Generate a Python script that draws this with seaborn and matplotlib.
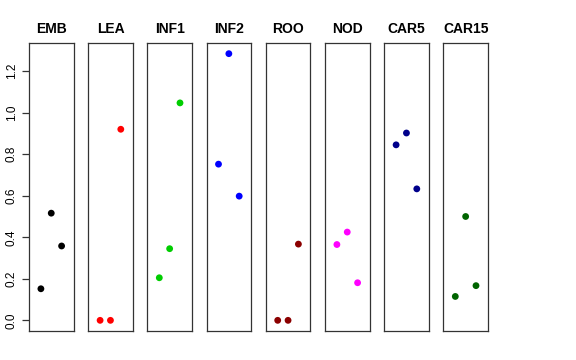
import matplotlib
matplotlib.use("Agg")
import matplotlib.pyplot as plt
import seaborn as sns
import pandas as pd

sns.set_style("white")
plt.rcParams['font.family'] = ['Liberation Sans', 'DejaVu Sans']
plt.rcParams['text.color'] = 'black'
plt.rcParams['axes.labelcolor'] = 'black'
plt.rcParams['ytick.color'] = 'black'
plt.rcParams['xtick.color'] = 'black'

tissues = ["EMB", "LEA", "INF1", "INF2", "ROO", "NOD", "CAR5", "CAR15"]
colors = ["black", "#FF0000", "#00CD00", "#0000FF", "#8B0000", "#FF00FF", "#00008B", "#006400"]
rep1 = [0.152, 0.0, 0.205, 0.752, 0.0, 0.365, 0.845, 0.115]
rep2 = [0.516, 0.0, 0.345, 1.284, 0.0, 0.425, 0.902, 0.500]
rep3 = [0.358, 0.920, 1.047, 0.598, 0.367, 0.181, 0.633, 0.167]
yticks = [0.0, 0.2, 0.4, 0.6, 0.8, 1.0, 1.2]
ytick_labels = ["0.0", "0.2", "0.4", "0.6", "0.8", "1.0", "1.2"]

rows = []
for t, a, b, c in zip(tissues, rep1, rep2, rep3):
    for i, v in enumerate([a, b, c], start=1):
        rows.append({"tissue": t, "rep": i, "value": v})
df = pd.DataFrame(rows)

W, H = 576, 360
fig = plt.figure(figsize=(W / 100, H / 100), dpi=100)
left0, pitch, pw = 29.0, 59.2, 44.5
top, bottom = 43.0, 331.0
vmax = max(rep1 + rep2 + rep3)
ext = 0.04 * vmax

for k, (t, col) in enumerate(zip(tissues, colors)):
    x0 = left0 + k * pitch
    ax = fig.add_axes([x0 / W, (H - bottom) / H, pw / W, (bottom - top) / H])
    sub = df[df["tissue"] == t]
    sns.scatterplot(data=sub, x="rep", y="value", color=col, s=24,
                    edgecolor="none", linewidth=0, ax=ax, legend=False)
    ax.set_xlim(-0.15, 4.15)
    ax.set_ylim(-ext, vmax + ext)
    ax.set_xticks([])
    ax.set_xlabel("")
    ax.set_ylabel("")
    ax.set_title(t, fontsize=10, fontweight="bold", pad=7, color="black")
    for sp in ax.spines.values():
        sp.set_visible(True)
        sp.set_color("#333333")
        sp.set_linewidth(0.9)
    if k == 0:
        ax.set_yticks(yticks)
        ax.set_yticklabels(ytick_labels, rotation=90, va="center", fontsize=8.5)
        ax.tick_params(axis="y", length=5, width=0.9, color="#333333", pad=3, left=True)
    else:
        ax.set_yticks([])

fig.savefig("out.png", dpi=100)
